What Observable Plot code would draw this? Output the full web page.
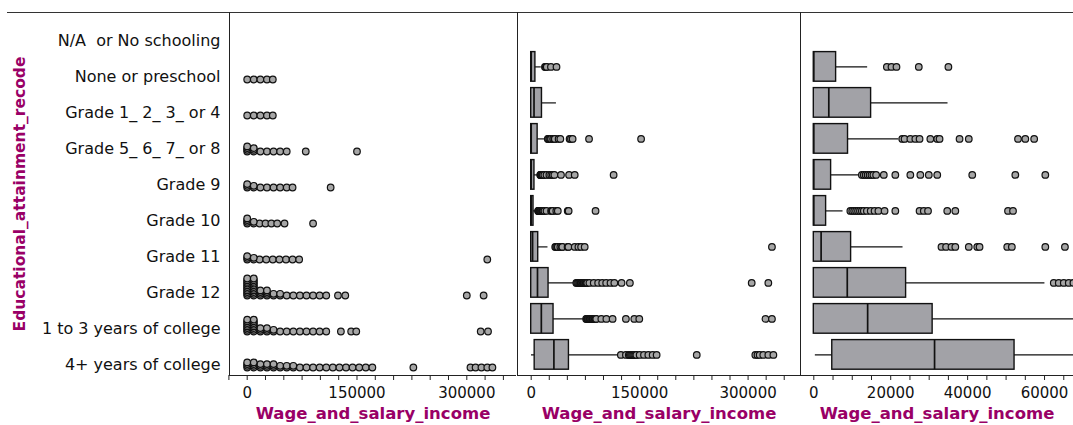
<!DOCTYPE html>
<html>
<head>
<meta charset="utf-8">
<script src="https://cdn.jsdelivr.net/npm/d3@7"></script>
<script src="https://cdn.jsdelivr.net/npm/@observablehq/plot@0.6"></script>
<style>
  html, body { margin: 0; padding: 0; background: #fff; overflow: hidden; }
  #wrap { position: relative; width: 1073px; height: 425px; }
  #wrap > svg { position: absolute; top: 0; }
  #wrap svg text { white-space: pre; }
  .topline { position: absolute; left: 7px; top: 12px; width: 1066px; height: 1px; background: #333; }
</style>
</head>
<body>
<div id="wrap"><div class="topline"></div></div>
<script>
// ---------- data ----------
const categories = [
  "N/A  or No schooling", "None or preschool", "Grade 1_ 2_ 3_ or 4", "Grade 5_ 6_ 7_ or 8",
  "Grade 9", "Grade 10", "Grade 11", "Grade 12", "1 to 3 years of college", "4+ years of college"
];
const yTitle = "Educational_attainment_recode";
const xTitle = "Wage_and_salary_income";

// box-plot statistics (Wage_and_salary_income), one entry per category
const q1          = [null, 0,     0,     0,     0,     0,    0,     0,     0,     4800];
const median      = [null, 0,     3900,  0,     0,     0,    1900,  8700,  14000, 31400];
const q3          = [null, 5800,  14900, 8900,  4500,  3200, 9700,  24000, 30900, 52200];
const whiskerLow  = [null, 0,     0,     0,     0,     0,    0,     0,     0,     400];
const whiskerHigh = [null, 14000, 34900, 22100, 12100, 7600, 23200, 60100, 75000, 122000];

// outliers
const outNA   = [];
const outNone = [19000, 20200, 21500, 27300, 35000];
const outG14  = [];
const outG58  = [23000, 23600, 25100, 26400, 27500, 30300, 32100, 32700, 37900, 40300, 53100, 55000, 57300, 80000, 152000];
const outG9   = [12500, 13000, 13500, 14000, 14500, 15000, 15500, 16200, 18200, 21200, 25100, 27700, 29900, 32100, 41200, 52400, 60200, 114000];
const outG10  = [9500, 10000, 10500, 11000, 11500, 12000, 12500, 13000, 13800, 14800, 15800, 16800, 18400, 21200, 27500, 28600, 29700, 34700, 36800, 50500, 51800, 89000];
const outG11  = [33200, 34400, 35800, 36800, 40300, 42500, 43100, 50300, 51500, 60200, 65300, 69000, 74000, 333000];
const outG12  = [62400, 63700, 65000, 66300, 67500, 68500, 69500, 70500, 71500, 72500, 73500, 74500, 75500, 76500, 77500, 80500, 86500, 92600, 98200, 103700, 109700, 115000, 125000, 136500, 305000, 328000];
const outC13  = [76000, 77000, 78000, 79000, 80000, 81000, 82000, 83000, 84000, 85000, 86000, 87000, 88000, 89000, 90000, 97000, 104000, 112600, 131000, 142600, 149500, 324000, 333000];
const outC4   = [124000, 131000, 135000, 136500, 138000, 139500, 141000, 142500, 144000, 145500, 150000, 156000, 162000, 168000, 173500, 229000, 310000, 313000, 316000, 321000, 328000, 335000];

// stacked dot plot (left panel); repeated values pile up
const stripNA   = [];
const stripNone = [0, 9000, 18000, 27000, 35000];
const stripG14  = [0, 9000, 18000, 27000, 35000];
const stripG58  = [0, 0, 0, 0, 9000, 9000, 9000, 18000, 27000, 36000, 45000, 54000, 80000, 150000];
const stripG9   = [0, 0, 0, 9000, 9000, 18000, 27000, 36000, 45000, 54000, 62000, 114000];
const stripG10  = [0, 0, 0, 0, 9000, 9000, 17000, 25000, 33000, 41000, 51000, 90000];
const stripG11  = [0, 0, 0, 9000, 9000, 17000, 26000, 35000, 44000, 53000, 62000, 71000, 328000];
const stripG12  = [0, 0, 0, 0, 0, 0, 0, 0, 0, 0, 0,
                   9000, 9000, 9000, 9000, 9000, 9000, 9000, 9000, 9000, 9000, 9000,
                   18000, 18000, 18000, 18000, 27000, 27000, 27000, 27000, 36000, 36000, 45000, 45000,
                   54000, 63000, 72000, 81000, 90000, 99000, 108000, 124000, 134000, 300000, 323000];
const stripC13  = [0, 0, 0, 0, 0, 0, 0, 0, 9000, 9000, 9000, 9000, 9000, 9000, 9000, 9000,
                   18000, 18000, 18000, 27000, 27000, 27000, 36000, 36000,
                   45000, 54000, 63000, 72000, 81000, 90000, 99000, 108000, 128000, 142000, 149000, 319000, 329000];
const stripC4   = [0, 0, 0, 0, 9000, 9000, 9000, 9000, 18000, 18000, 18000, 27000, 27000, 27000,
                   36000, 36000, 36000, 45000, 45000, 54000, 54000, 63000, 63000, 72000, 81000, 90000,
                   99000, 108000, 117000, 126000, 135000, 144000, 153000, 162000, 171000, 227000,
                   305000, 312000, 320000, 328000, 335000];

// tick labels
const wideTickLabels = [0, 150000, 300000];
const wideTickStep = 25000;
const narrowTickLabels = [0, 20000, 40000, 60000];
const narrowTickStep = 5000;

// ---------- tables ----------
const outlierLists = [outNA, outNone, outG14, outG58, outG9, outG10, outG11, outG12, outC13, outC4];
const stripLists = [stripNA, stripNone, stripG14, stripG58, stripG9, stripG10, stripG11, stripG12, stripC13, stripC4];

const boxes = categories.map((cat, i) => ({
  cat, q1: q1[i], median: median[i], q3: q3[i], lo: whiskerLow[i], hi: whiskerHigh[i]
})).filter(d => d.q1 !== null);

const outlierPts = categories.flatMap((cat, i) => outlierLists[i].map(value => ({cat, value})));

const stripPts = categories.flatMap((cat, i) => {
  const seen = new Map();
  return stripLists[i].map(value => {
    const level = seen.get(value) || 0;
    seen.set(value, level + 1);
    return {cat, value, level};
  });
});
const maxLevel = d3.max(stripPts, d => d.level);

// ---------- styles ----------
const INK = "#111";
const BOXFILL = "#a2a2a7";
const DOTFILL = "#a6a6a6";
const PURPLE = "#990066";
const FONT = "DejaVu Sans, Verdana, sans-serif";
const BOXDY = -9.6;
const STACK = 1.7;
const DOTDY = 3;

const yScale = {type: "band", domain: categories, range: [20, 384], padding: 0};

function xAxes(ticks, labels) {
  return [
    Plot.frame({anchor: "left", stroke: "#222"}),
    Plot.frame({anchor: "bottom", stroke: "#222"}),
    Plot.axisX({
      ticks, tickSize: 5, tickPadding: 7, stroke: "#222", fill: "#111", fontSize: 15,
      tickFormat: d => labels.includes(d) ? String(d) : "", label: null
    }),
    Plot.axisX({
      ticks: [], tickSize: 0, label: xTitle, labelAnchor: "center", labelArrow: "none",
      labelOffset: 43.5, fill: PURPLE, fontWeight: "bold", fontSize: 16.5
    })
  ];
}

function boxMarks() {
  return [
    Plot.ruleY(boxes, {y: "cat", x1: "lo", x2: "hi", dy: BOXDY, stroke: INK, strokeWidth: 1.2, clip: true}),
    Plot.barX(boxes, {y: "cat", x1: "q1", x2: "q3", insetTop: 3.2, insetBottom: 3.2, dy: BOXDY,
      fill: BOXFILL, stroke: INK, strokeWidth: 1.4, clip: true}),
    Plot.tickX(boxes, {y: "cat", x: "median", insetTop: 3.2, insetBottom: 3.2, dy: BOXDY,
      stroke: INK, strokeWidth: 1.7, clip: true}),
    Plot.dot(outlierPts, {y: "cat", x: "value", r: 3.3, dy: BOXDY, fill: DOTFILL, stroke: INK,
      strokeWidth: 1.2, clip: true})
  ];
}

const style = {fontFamily: FONT, fontSize: "15px", color: "#111", background: "transparent"};
const wrap = document.getElementById("wrap");

// ---------- left panel: stacked dot plot ----------
const wideTicks = d3.range(-wideTickStep, 350000 + 1, wideTickStep);
const levelMarks = d3.range(0, maxLevel + 1).map(lvl =>
  Plot.dot(stripPts.filter(d => d.level === lvl), {
    x: "value", y: "cat", r: 3.3, dy: DOTDY - lvl * STACK,
    fill: DOTFILL, stroke: INK, strokeWidth: 1.2
  })
);
const left = Plot.plot({
  width: 516, height: 425, marginLeft: 229, marginRight: 0, marginTop: 12, marginBottom: 50,
  style,
  x: {domain: [-24180, 367900]},
  y: yScale,
  marks: [
    Plot.axisY({tickSize: 0, tickPadding: 9, fontSize: 16, fill: "#111", label: null}),
    Plot.axisY({ticks: [], tickSize: 0, label: yTitle, labelAnchor: "center", labelArrow: "none",
      labelOffset: 216, fill: PURPLE, fontWeight: "bold", fontSize: 15.5}),
    ...xAxes(wideTicks, wideTickLabels),
    ...levelMarks
  ]
});
left.style.left = "0px";
wrap.appendChild(left);

// ---------- middle panel: box plots, full range ----------
const middle = Plot.plot({
  width: 284, height: 425, marginLeft: 1, marginRight: 0, marginTop: 12, marginBottom: 50,
  style,
  x: {domain: [-18950, 372500]},
  y: {...yScale, axis: null},
  marks: [...xAxes(wideTicks, wideTickLabels), ...boxMarks()]
});
middle.style.left = "516px";
wrap.appendChild(middle);

// ---------- right panel: box plots, zoomed ----------
const narrowTicks = d3.range(0, 65000 + 1, narrowTickStep);
const right = Plot.plot({
  width: 274, height: 425, marginLeft: 1, marginRight: 0, marginTop: 12, marginBottom: 50,
  style,
  x: {domain: [-3460, 67530]},
  y: {...yScale, axis: null},
  marks: [...xAxes(narrowTicks, narrowTickLabels), ...boxMarks()]
});
right.style.left = "799px";
wrap.appendChild(right);
</script>
</body>
</html>
